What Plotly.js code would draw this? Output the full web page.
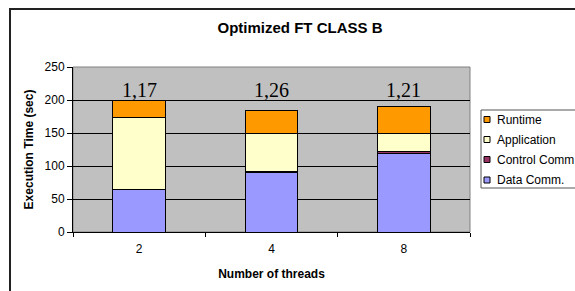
<!DOCTYPE html>
<html>
<head>
<meta charset="utf-8">
<script src="https://cdn.plot.ly/plotly-3.0.1.min.js"></script>
<style>
  html, body { margin: 0; padding: 0; background: #fff; }
  #wrap { position: relative; width: 575px; height: 291px; overflow: hidden; }
  #chart { width: 575px; height: 291px; }
  #frame { position: absolute; left: 9px; top: 8px; width: 620px; height: 320px;
           border: 2px solid #222; pointer-events: none; }
</style>
</head>
<body>
<div id="wrap">
  <div id="chart"></div>
  <div id="frame"></div>
</div>
<script>
// ---- data ----
const threads = ['2', '4', '8'];
const seriesNames = ['Data Comm.', 'Control Comm.', 'Application', 'Runtime'];
const dataComm    = [64.5, 90, 119.5];
const controlComm = [0.5, 1.5, 2];
const application = [109, 58, 27.5];
const runtime     = [24.5, 34.5, 40.5];
const speedups    = ['1,17', '1,26', '1,21'];
const speedupLabelY = 215;

const colors = ['#9999FF', '#993366', '#FFFFCC', '#FF9900'];
const values = [dataComm, controlComm, application, runtime];
const FONT = 'Liberation Sans, Arial, sans-serif';

const traces = values.map((v, i) => ({
  type: 'bar',
  name: seriesNames[i],
  x: threads,
  y: v,
  marker: { color: colors[i], line: { color: '#000', width: 1 } },
  showlegend: false,
  hoverinfo: 'name+y'
}));

// plot area pixel geometry (for custom legend placement)
const L = 73, R = 470, T = 67, B = 232;
const px = x => (x - L) / (R - L);
const py = y => (B - y) / (B - T);

// speed-up labels above each bar (x given as category index)
const annotations = speedups.map((s, i) => ({
  x: i, y: speedupLabelY, xref: 'x', yref: 'y',
  text: s, showarrow: false, yanchor: 'middle',
  font: { family: 'Liberation Serif, Times New Roman, serif', size: 20, color: '#000' }
}));

const shapes = [
  // plot area border (gray)
  { type: 'rect', xref: 'paper', yref: 'paper', x0: 0, x1: 1, y0: 0, y1: 1,
    line: { color: '#808080', width: 1 }, layer: 'below' },
  // legend box
  { type: 'rect', xref: 'paper', yref: 'paper', x0: px(481), x1: px(600), y0: py(188), y1: py(110),
    line: { color: '#555', width: 1 }, fillcolor: '#fff' }
];

// legend entries: top to bottom Runtime, Application, Control, Data
const legendY = [119.5, 139.5, 159.5, 180];
for (let k = 0; k < 4; k++) {
  const i = 3 - k;
  const cy = legendY[k];
  shapes.push({ type: 'rect', xref: 'paper', yref: 'paper',
    x0: px(484), x1: px(490), y0: py(cy + 3), y1: py(cy - 3),
    fillcolor: colors[i], line: { color: '#000', width: 1 } });
  annotations.push({ xref: 'paper', yref: 'paper', x: px(495), y: py(cy),
    xanchor: 'left', yanchor: 'middle', showarrow: false,
    text: seriesNames[i],
    font: { family: FONT, size: 12, color: '#000' } });
}

const layout = {
  width: 575, height: 291,
  margin: { l: L, r: 575 - R, t: T, b: 291 - B, pad: 0 },
  paper_bgcolor: 'rgba(0,0,0,0)',
  plot_bgcolor: '#C0C0C0',
  barmode: 'stack',
  bargap: 0.6,
  showlegend: false,
  font: { family: FONT, size: 12, color: '#000' },
  title: {
    text: '<b>Optimized FT CLASS B</b>',
    font: { family: FONT, size: 15, color: '#000' },
    xref: 'container', x: 300 / 575, xanchor: 'center',
    yref: 'container', y: 1 - 27.5 / 291, yanchor: 'middle'
  },
  xaxis: {
    type: 'category',
    range: [-0.5, 2.5],
    tickson: 'boundaries',
    ticks: 'outside', ticklen: 4, tickcolor: '#000',
    ticklabelstandoff: 6,
    showline: true, linecolor: '#000', linewidth: 1,
    showgrid: false,
    tickfont: { family: FONT, size: 12 },
    title: { text: '<b>Number of threads</b>', font: { family: FONT, size: 12 }, standoff: 14 }
  },
  yaxis: {
    range: [0, 250], dtick: 50,
    ticks: 'outside', ticklen: 5, tickcolor: '#000',
    showline: true, linecolor: '#000', linewidth: 1,
    gridcolor: '#000', gridwidth: 1,
    zeroline: false,
    tickfont: { family: FONT, size: 12 },
    title: { text: '<b>Execution Time (sec)</b>', font: { family: FONT, size: 12 }, standoff: 8 }
  },
  shapes: shapes,
  annotations: annotations
};

Plotly.newPlot('chart', traces, layout, { displayModeBar: false, staticPlot: true });
</script>
</body>
</html>
